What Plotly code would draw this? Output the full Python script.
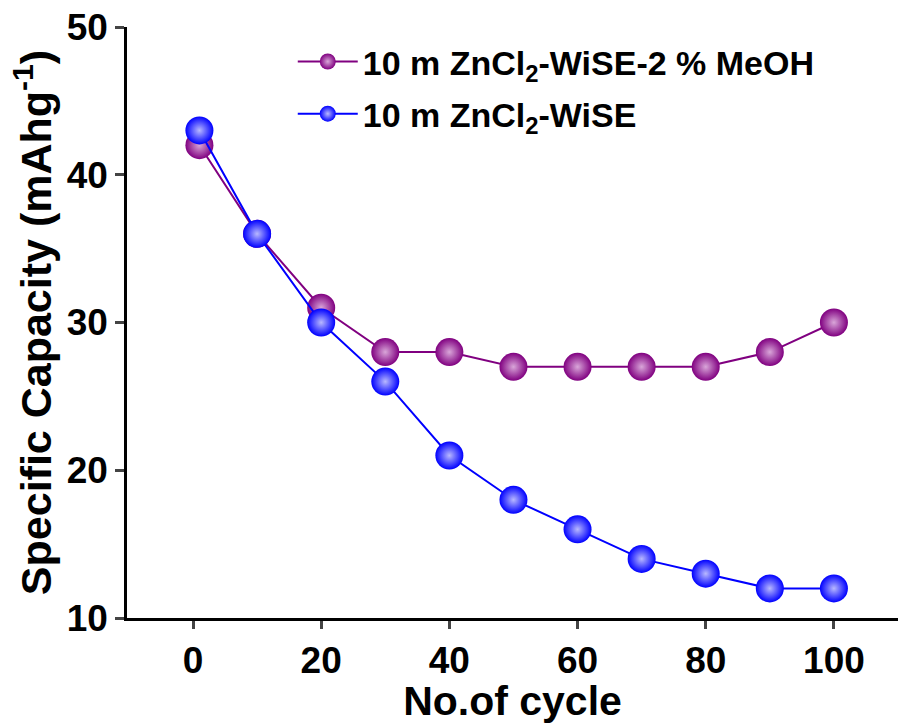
import plotly.graph_objects as go

cycles = [1, 10, 20, 30, 40, 50, 60, 70, 80, 90, 100]
meoh = [42, 36, 31, 28, 28, 27, 27, 27, 27, 28, 30]
wise = [43, 36, 30, 26, 21, 18, 16, 14, 13, 12, 12]
name_meoh = "10 m ZnCl<sub>2</sub>-WiSE-2 % MeOH"
name_wise = "10 m ZnCl<sub>2</sub>-WiSE"
xticks = [0, 20, 40, 60, 80, 100]
yticks = [10, 20, 30, 40, 50]

FONT = "Liberation Sans, Arial, sans-serif"

fig = go.Figure()
fig.add_trace(go.Scatter(
    x=cycles, y=meoh, mode="lines+markers", name=name_meoh, legendgroup="a",
    line=dict(color="#800080", width=2),
    marker=dict(size=28, color="#800080", line=dict(width=0),
                gradient=dict(type="radial", color="#d9a6d9")),
))
fig.add_trace(go.Scatter(
    x=cycles, y=wise, mode="lines+markers", name=name_wise, legendgroup="b",
    line=dict(color="#0000ff", width=2),
    marker=dict(size=28, color="#0000ff", line=dict(width=0),
                gradient=dict(type="radial", color="#b8b8ff")),
))

fig.update_layout(
    width=898, height=724,
    margin=dict(l=127, r=0, t=27, b=106),
    plot_bgcolor="white", paper_bgcolor="white",
    font=dict(family=FONT, color="black", weight="bold"),
    showlegend=True,
    legend=dict(x=0.215, y=0.99, xanchor="left", yanchor="top",
                font=dict(size=34, family=FONT, color="black", weight="bold"),
                bgcolor="rgba(0,0,0,0)", tracegroupgap=5, itemwidth=60),
    xaxis=dict(range=[-10.3, 110], tickvals=xticks, ticks="outside", ticklen=8, tickwidth=2.5,
               showline=True, linewidth=2.5, linecolor="black", showgrid=False, zeroline=False,
               tickfont=dict(size=37, family=FONT, weight="bold"),
               title=dict(text="No.of cycle", font=dict(size=41, family=FONT, weight="bold"), standoff=6)),
    yaxis=dict(range=[10, 50], tickvals=yticks, ticks="outside", ticklen=9, tickwidth=2.5,
               showline=True, linewidth=2.5, linecolor="black", showgrid=False, zeroline=False,
               tickfont=dict(size=37, family=FONT, weight="bold"),
               title=dict(text="Specific Capacity (mAhg<sup>-1</sup>)", font=dict(size=43, family=FONT, weight="bold"), standoff=2)),
)

fig.write_html("out.html")
